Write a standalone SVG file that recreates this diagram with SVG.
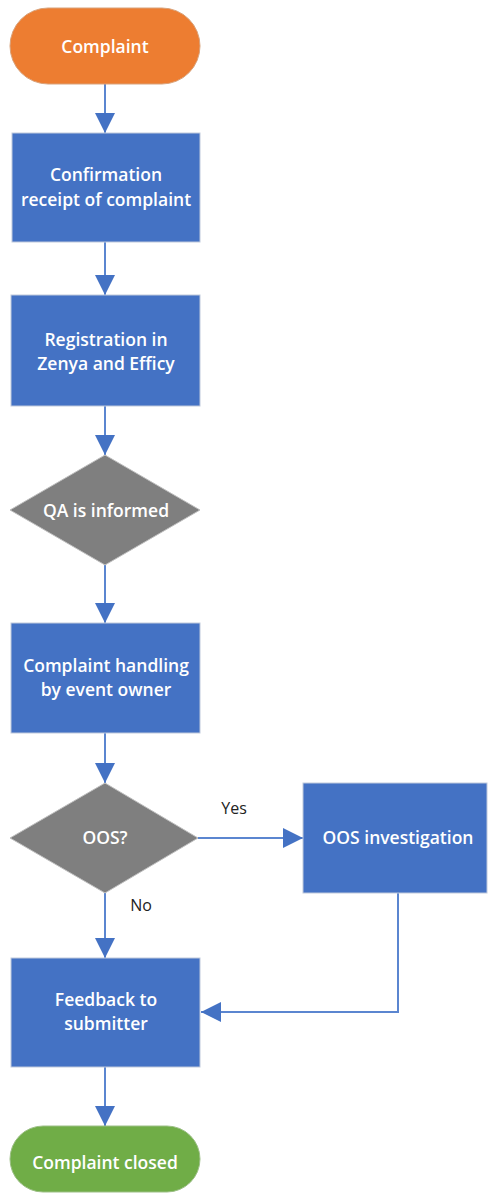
<svg xmlns="http://www.w3.org/2000/svg" width="488" height="1196" viewBox="0 0 488 1196">
<defs>
<marker id="ah2" viewBox="0 0 20 20" refX="20" refY="10" markerWidth="20" markerHeight="20" markerUnits="userSpaceOnUse" orient="auto">
<path d="M0,0 L20,10 L0,20 Z" fill="#4472C4"/>
</marker>
<style>
.box{fill:#4472C4;stroke:#BFC9DC;stroke-width:1}
.dia{fill:#7F7F7F;stroke:#BFBFBF;stroke-width:1}
.t{font-family:"Open Sans","Noto Sans",sans-serif;font-size:17.5px;font-weight:600;fill:#FFFFFF;text-anchor:middle}
.l{font-family:"Open Sans","Noto Sans",sans-serif;font-size:16px;fill:#222222;text-anchor:middle}
.c{fill:none;stroke:#5B86D0;stroke-width:2;marker-end:url(#ah2)}
</style>
</defs>
<g id="connectors">
<path class="c" d="M105,84 V133"/>
<path class="c" d="M105,242 V295"/>
<path class="c" d="M105,406 V455"/>
<path class="c" d="M105,565 V623"/>
<path class="c" d="M105,733 V783"/>
<path class="c" d="M198,838 H303"/>
<path class="c" d="M105,893 V958"/>
<path class="c" d="M398,893 V1012 H201"/>
<path class="c" d="M105,1067 V1126"/>
<text class="l" x="234" y="814">Yes</text>
<text class="l" x="141" y="911">No</text>
</g>
<g id="n-complaint">
<rect x="10" y="8" width="190" height="76" rx="38" fill="#ED7D31" stroke="#D9A27A" stroke-width="1"/>
<text class="t" x="105" y="53">Complaint</text>
</g>
<g id="n-confirmation">
<rect class="box" x="12" y="133" width="188" height="109"/>
<text class="t" x="106" y="181">Confirmation</text>
<text class="t" x="106" y="206">receipt of complaint</text>
</g>
<g id="n-registration">
<rect class="box" x="11" y="295" width="189" height="111"/>
<text class="t" x="106" y="346">Registration in</text>
<text class="t" x="106" y="370">Zenya and Efficy</text>
</g>
<g id="n-qa">
<polygon class="dia" points="105,455 200,510 105,565 10,510"/>
<text class="t" x="106" y="517">QA is informed</text>
</g>
<g id="n-handling">
<rect class="box" x="11" y="623" width="189" height="110"/>
<text class="t" x="106" y="672">Complaint handling</text>
<text class="t" x="106" y="696">by event owner</text>
</g>
<g id="n-oos">
<polygon class="dia" points="105,783 198,838 105,893 10,838"/>
<text class="t" x="105" y="844">OOS?</text>
</g>
<g id="n-investigation">
<rect class="box" x="303" y="783" width="184" height="110"/>
<text class="t" x="398" y="844">OOS investigation</text>
</g>
<g id="n-feedback">
<rect class="box" x="11" y="958" width="189" height="109"/>
<text class="t" x="106" y="1006">Feedback to</text>
<text class="t" x="106" y="1030">submitter</text>
</g>
<g id="n-closed">
<rect x="10" y="1126" width="190" height="66" rx="33" fill="#70AD47" stroke="#9CBF86" stroke-width="1"/>
<text class="t" x="105" y="1169">Complaint closed</text>
</g>
</svg>
